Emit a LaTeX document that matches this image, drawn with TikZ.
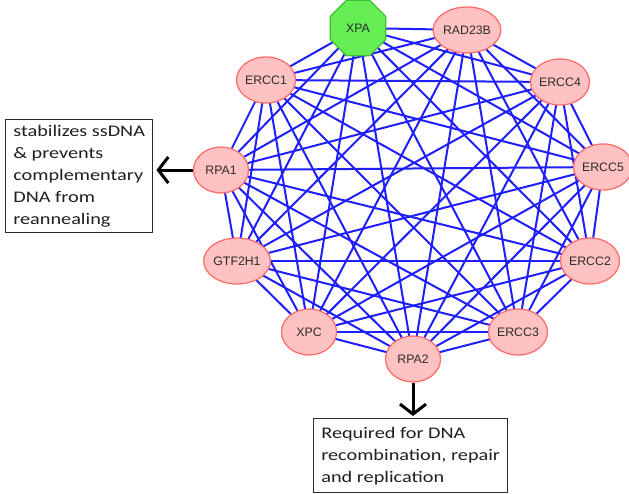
\documentclass[tikz,border=0pt]{standalone}
\usepackage{fontspec}
\setmainfont{Liberation Sans}
\newfontfamily\notefont[FakeStretch=1.25]{Carlito}
\usetikzlibrary{shapes.geometric,arrows.meta}
\pgfdeclarelayer{edges}
\pgfsetlayers{edges,main}
\definecolor{edgeblue}{HTML}{1E1EFF}
\definecolor{genefill}{HTML}{FFC2C2}
\definecolor{genedraw}{HTML}{FF6E6E}
\definecolor{hubfill}{HTML}{66EE55}
\definecolor{hubdraw}{HTML}{3CC032}
\definecolor{labelgray}{HTML}{2A2A2A}
\tikzset{
  gene/.style={ellipse, fill=genefill, draw=genedraw, line width=1.3pt,
    minimum width=55pt, minimum height=46pt, inner sep=0pt,
    font=\fontsize{12.3}{13}\selectfont, text=labelgray},
  hub/.style={regular polygon, regular polygon sides=8, fill=hubfill,
    draw=hubdraw, line width=1.3pt, minimum size=60pt, inner sep=0pt,
    font=\fontsize{12.3}{13}\selectfont, text=labelgray},
  link/.style={edgeblue, line width=2pt},
  notebox/.style={draw=labelgray, line width=1.4pt, align=left, inner sep=0pt,
    anchor=north west, font=\notefont\fontsize{16.2}{22}\selectfont,
    text=black!88},
  notearrow/.style={line width=3pt, black,
    -{Straight Barb[length=10pt,width=26pt]}}
}
\begin{document}
\begin{tikzpicture}[x=1pt,y=-1pt]
\useasboundingbox (0,0) rectangle (629,493);

% interaction network: eleven proteins on a ring
\node[hub]  (XPA)    at (358,28)  {XPA};
\node[gene] (RAD23B) at (467,30)  {RAD23B};
\node[gene] (ERCC4)  at (560,82)  {ERCC4};
\node[gene] (ERCC5)  at (603,167) {ERCC5};
\node[gene] (ERCC2)  at (590,261) {ERCC2};
\node[gene] (ERCC3)  at (518,332) {ERCC3};
\node[gene] (RPA2)   at (413,359) {RPA2};
\node[gene] (XPC)    at (309,332) {XPC};
\node[gene] (GTF2H1) at (237,261) {GTF2H1};
\node[gene] (RPA1)   at (221,170) {RPA1};
\node[gene] (ERCC1)  at (266,80)  {ERCC1};

% every pair of proteins is linked
\begin{pgfonlayer}{edges}
\foreach \a [count=\i] in {XPA,RAD23B,ERCC4,ERCC5,ERCC2,ERCC3,RPA2,XPC,GTF2H1,RPA1,ERCC1}{
  \foreach \b [count=\j] in {XPA,RAD23B,ERCC4,ERCC5,ERCC2,ERCC3,RPA2,XPC,GTF2H1,RPA1,ERCC1}{
    \ifnum\j>\i \draw[link] (\a.center) -- (\b.center); \fi
  }
}
\end{pgfonlayer}

% annotations
\node[notebox, minimum width=147pt, minimum height=113pt] (rpa1note) at (5,119)
  {stabilizes ssDNA\\ \& prevents\\ complementary\\ DNA from\\ reannealing};
\node[notebox, minimum width=194pt, minimum height=74pt] (rpa2note) at (313,418)
  {Required for DNA\\ recombination, repair\\ and replication};

\draw[notearrow, shorten >=3pt] (RPA1.west) -- (rpa1note.east |- RPA1.west);
\draw[notearrow, shorten >=2pt] (RPA2.south) -- (RPA2.south |- rpa2note.north);
\end{tikzpicture}
\end{document}
